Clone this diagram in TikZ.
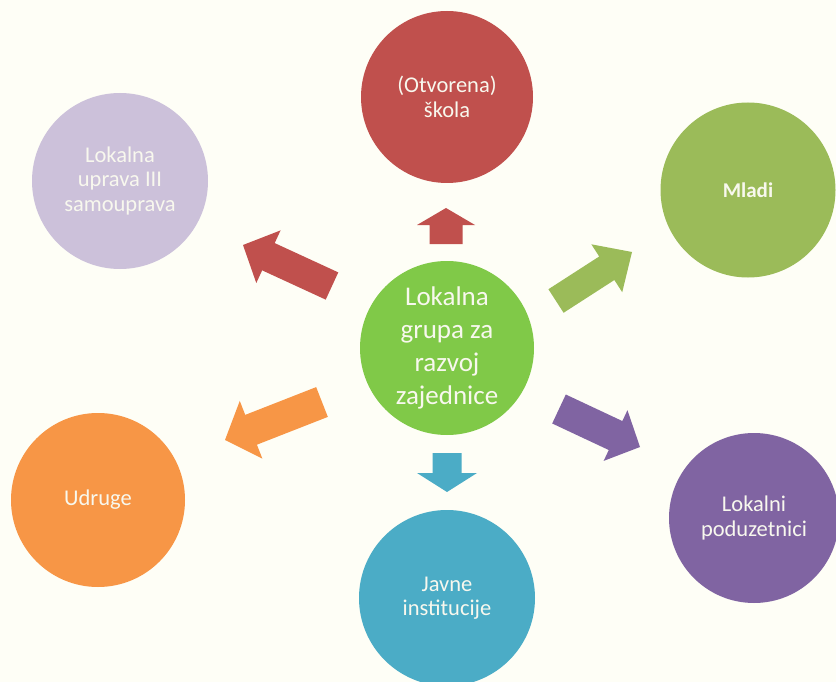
\documentclass[tikz,border=0pt]{standalone}
\usepackage{fontspec}
\setmainfont{Carlito}
\usetikzlibrary{calc}
\definecolor{bg}{HTML}{FEFEF6}
\definecolor{txt}{HTML}{F8F8EE}
\definecolor{cgreen}{RGB}{128,201,72}
\definecolor{cred}{HTML}{C0504D}
\definecolor{colive}{HTML}{9BBB59}
\definecolor{cpurple}{HTML}{8064A2}
\definecolor{cteal}{HTML}{4BACC6}
\definecolor{corange}{HTML}{F79646}
\definecolor{clav}{HTML}{CCC1DA}
\tikzset{
  bubble/.style={circle, inner sep=0pt, minimum size=#1, text=txt, align=center,
    font=\fontsize{22.5}{24.5}\selectfont},
  hub/.style={circle, inner sep=0pt, minimum size=174pt, fill=cgreen, text=txt, align=center,
    font=\fontsize{27}{33}\selectfont},
}
% #1 name, #2 colour, #3 tail, #4 tip, #5 half shaft width, #6 half head width, #7 head length
\newcommand\bigarr[7]{%
  \coordinate (#1-h) at ($(#4)!#7!(#3)$);
  \fill[#2] ($(#3)!#5!90:(#4)$) -- ($(#1-h)!#5!90:(#4)$) -- ($(#1-h)!#6!90:(#4)$) -- (#4)
    -- ($(#1-h)!#6!-90:(#4)$) -- ($(#1-h)!#5!-90:(#4)$) -- ($(#3)!#5!-90:(#4)$) -- cycle;
}
\begin{document}
\begin{tikzpicture}[x=1pt,y=-1pt]
  \useasboundingbox (0,0) rectangle (836,682);
  \clip (0,0) rectangle (836,682);
  \fill[bg] (0,0) rectangle (836,682);

  \node[hub] (hub) at (447,348) {Lokalna\\grupa za\\razvoj\\zajednice};
  \node[bubble=172pt, fill=cred] (skola) at (447,97) {(Otvorena)\\škola};
  \node[bubble=175pt, fill=colive, font=\bfseries\fontsize{21}{24}\selectfont] (mladi) at (748,190) {Mladi};
  \node[bubble=170pt, fill=cpurple] (pod) at (754,518) {Lokalni\\poduzetnici};
  \node[bubble=176pt, fill=cteal] (javne) at (447,598) {Javne\\institucije};
  \node[bubble=174pt, fill=corange] (udruge) at (98,500) {Udruge};
  \node[bubble=176pt, fill=clav] (uprava) at (120,181) {Lokalna\\uprava III\\samouprava};

  \coordinate (t1) at (446,244); \coordinate (p1) at (446,208);
  \coordinate (t2) at (447,453); \coordinate (p2) at (447,492);
  \coordinate (t3) at (332,286); \coordinate (p3) at (243,245);
  \coordinate (t4) at (556,301); \coordinate (p4) at (632,252);
  \coordinate (t5) at (559,409); \coordinate (p5) at (640,447);
  \coordinate (t6) at (322,402); \coordinate (p6) at (225,440);

  \bigarr{a1}{cred}{t1}{p1}{16.5pt}{29pt}{17pt}
  \bigarr{a2}{cteal}{t2}{p2}{14.5pt}{30pt}{19pt}
  \bigarr{a3}{cred}{t3}{p3}{15pt}{29pt}{28pt}
  \bigarr{a4}{colive}{t4}{p4}{14pt}{28.5pt}{30pt}
  \bigarr{a5}{cpurple}{t5}{p5}{16pt}{28pt}{27pt}
  \bigarr{a6}{corange}{t6}{p6}{16pt}{31pt}{28pt}
\end{tikzpicture}
\end{document}
